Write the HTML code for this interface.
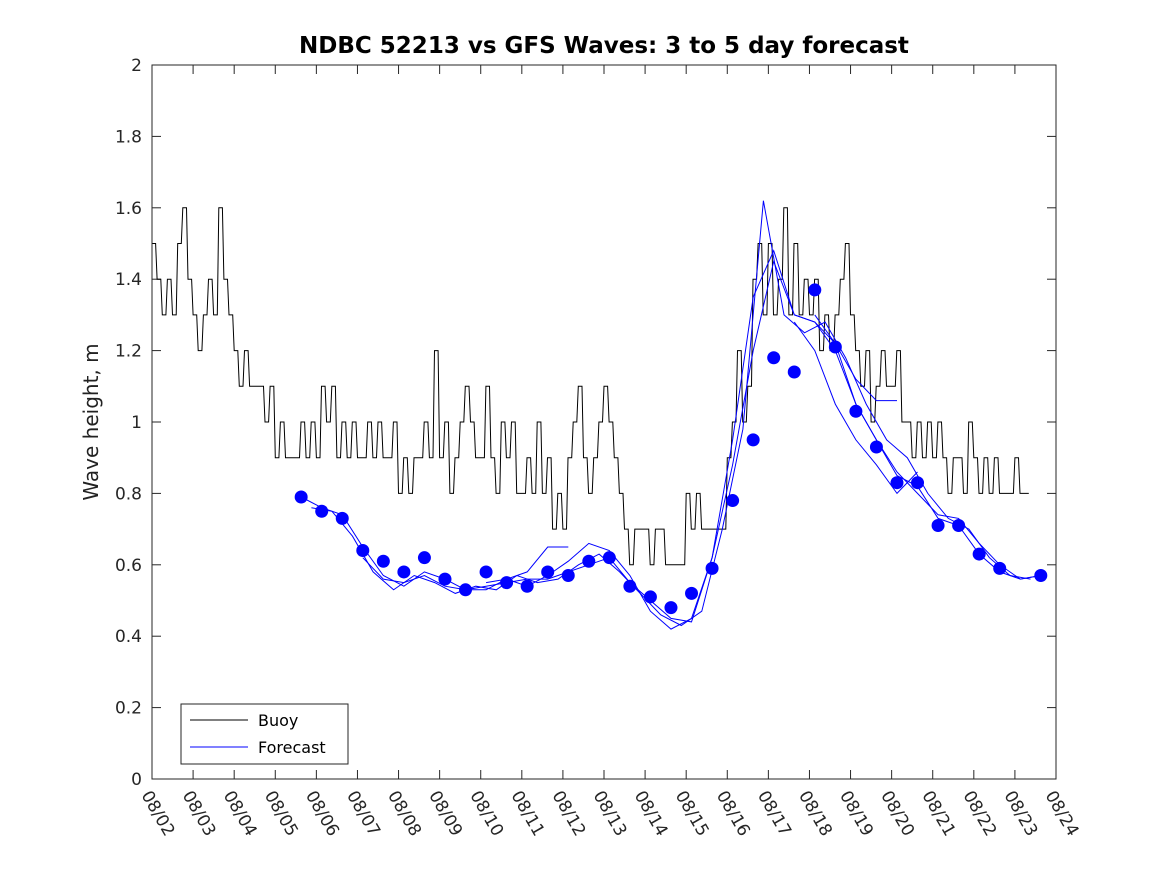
<!DOCTYPE html>
<html><head><meta charset="utf-8"><style>body{margin:0;background:#fff}svg{display:block;font-family:"DejaVu Sans","Liberation Sans",sans-serif}</style></head>
<body>
<svg id="chart" width="1167" height="875" xmlns="http://www.w3.org/2000/svg">
<rect width="1167" height="875" fill="#fff"/>
<text x="604" y="53" text-anchor="middle" font-size="23" font-weight="bold">NDBC 52213 vs GFS Waves: 3 to 5 day forecast</text>
<text transform="translate(98,422) rotate(-90)" text-anchor="middle" font-size="20" fill="#222">Wave height, m</text>
<g id="axes"></g>
<g id="series"></g>
<rect x="152" y="65" width="904" height="714" fill="none" stroke="#262626" stroke-width="1"/>
<g>
<rect x="181" y="704" width="167" height="60" fill="#fff" stroke="#262626"/>
<line x1="190" y1="720" x2="248" y2="720" stroke="#000"/>
<text x="258" y="726" font-size="16">Buoy</text>
<line x1="190" y1="747" x2="248" y2="747" stroke="#00f"/>
<text x="258" y="753" font-size="16">Forecast</text>
</g>
</svg>
<script>
const xTickLabels=["08/02","08/03","08/04","08/05","08/06","08/07","08/08","08/09","08/10","08/11","08/12","08/13","08/14","08/15","08/16","08/17","08/18","08/19","08/20","08/21","08/22","08/23","08/24"];
const yTicks=[0,0.2,0.4,0.6,0.8,1,1.2,1.4,1.6,1.8,2];
const buoyStep=0.125;
const buoy=[1.5,1.4,1.3,1.4,1.3,1.5,1.6,1.4,
1.3,1.2,1.3,1.4,1.3,1.6,1.4,1.3,
1.2,1.1,1.2,1.1,1.1,1.1,1.0,1.1,
0.9,1.0,0.9,0.9,0.9,1.0,0.9,1.0,
0.9,1.1,1.0,1.1,0.9,1.0,0.9,1.0,
0.9,0.9,1.0,0.9,1.0,0.9,0.9,1.0,
0.8,0.9,0.8,0.9,0.9,1.0,0.9,1.2,
0.9,1.0,0.8,0.9,1.0,1.1,1.0,0.9,
0.9,1.1,0.9,0.8,1.0,0.9,1.0,0.8,
0.8,0.9,0.8,1.0,0.8,0.9,0.7,0.8,
0.7,0.9,1.0,1.1,0.9,0.8,0.9,1.0,
1.1,1.0,0.9,0.8,0.7,0.6,0.7,0.7,
0.7,0.6,0.7,0.7,0.6,0.6,0.6,0.6,
0.8,0.7,0.8,0.7,0.7,0.7,0.7,0.7,
0.9,1.0,1.2,1.0,1.1,1.4,1.5,1.3,
1.5,1.3,1.4,1.6,1.3,1.5,1.3,1.4,
1.3,1.4,1.2,1.3,1.2,1.3,1.4,1.5,
1.3,1.2,1.1,1.2,1.0,1.1,1.2,1.1,
1.1,1.2,1.0,1.0,0.9,1.0,0.9,1.0,
0.9,1.0,0.9,0.8,0.9,0.9,0.8,1.0,
0.9,0.8,0.9,0.8,0.9,0.8,0.8,0.8,
0.9,0.8,0.8];
const dotStart=3.63;
const dots=[0.79,0.75,0.73,0.64,0.61,0.58,0.62,0.56,0.53,0.58,0.55,0.54,0.58,0.57,0.61,0.62,0.54,0.51,0.48,0.52,0.59,0.78,0.95,1.18,1.14,1.37,1.21,1.03,0.93,0.83,0.83,0.71,0.71,0.63,0.59,null,0.57];
const runStarts=[3.63,3.88,5.13,8.13,16.13,15.63];
const run1=[0.79,0.76,0.74,0.65,0.57,0.54,0.58,0.56,0.53,0.54,0.55,0.56,0.56,0.58,0.60,0.62,0.55,0.50,0.45,0.44,0.62,0.88,1.20,1.45,1.30,1.28,1.22,1.05,0.95,0.85,0.82,0.73,0.71,0.63,0.58,0.56,0.57];
const run2=[0.76,0.75,0.68,0.58,0.53,0.57,0.55,0.52,0.54,0.53,0.57,0.55,0.56,0.60,0.63,0.58,0.52,0.46,0.43,0.47,0.70,0.98,1.62,1.30,1.25,1.28,1.18,1.05,0.95,0.90,0.80,0.73,0.70,0.62,0.57,0.56];
const run3=[0.62,0.56,0.55,0.57,0.54,0.53,0.53,0.56,0.54,0.57,0.61,0.66,0.64,0.57,0.47,0.42,0.45,0.62,0.95,1.35,1.48,1.30,1.28,1.20,1.05,0.95,0.86,0.80,0.74,0.73,0.66,0.60,0.56,0.57];
const run4=[0.55,0.56,0.58,0.65,0.65];
const run5=[1.30,1.22,1.12,1.06,1.06];
const run6=[1.28,1.20,1.05,0.95,0.88,0.80,0.86];
const runs=[run1,run2,run3,run4,run5,run6];

const X0=152,X1=1056,Y0=779,Y1=65;
const xs=d=>X0+d*(X1-X0)/22;
const ys=v=>Y0-v*(Y0-Y1)/2;
const NS="http://www.w3.org/2000/svg";
function mk(tag,attrs,parent){const e=document.createElementNS(NS,tag);for(const k in attrs)e.setAttribute(k,attrs[k]);parent.appendChild(e);return e;}
const axes=document.getElementById('axes'),ser=document.getElementById('series');
yTicks.forEach(v=>{
 const y=ys(v);
 const t=mk('line',{x1:X0,y1:y,x2:X0+9,y2:y,stroke:'#262626'},axes);
 
 
 const t2=mk('line',{x1:X1,y1:y,x2:X1-9,y2:y,stroke:'#262626'},axes);
 
 
 const l=mk('text',{x:X0-10,y:y+6,'text-anchor':'end','font-size':'17',fill:'#262626'},axes);
 l.textContent=String(v);
 
 
});
xTickLabels.forEach((s,i)=>{
 const x=xs(i);
 const t=mk('line',{x1:x,y1:Y0,x2:x,y2:Y0-9,stroke:'#262626'},axes);
 
 
 const t2=mk('line',{x1:x,y1:Y1,x2:x,y2:Y1+9,stroke:'#262626'},axes);
 
 
 const l=mk('text',{transform:`translate(${x-11},${795}) rotate(60)`,'font-size':'17',fill:'#262626'},axes);
 l.textContent=s;
 
 
});
let d='';
buoy.forEach((v,i)=>{const x0=xs(i*buoyStep),x1=xs((i+1)*buoyStep)-1.5;d+=(i?'L':'M')+x0.toFixed(1)+','+ys(v).toFixed(1)+'L'+x1.toFixed(1)+','+ys(v).toFixed(1);});
const bp=mk('path',{d:d,fill:'none',stroke:'#000','stroke-width':'1'},ser);


runs.forEach((r,k)=>{
 const pd=r.map((v,i)=>(i?'L':'M')+xs(runStarts[k]+i*0.5).toFixed(1)+','+ys(v).toFixed(1)).join('');
 const p=mk('path',{d:pd,fill:'none',stroke:'#00f','stroke-width':'1'},ser);
 
 
});
dots.forEach((v,i)=>{
 if(v===null)return;
 const c=mk('circle',{cx:xs(dotStart+i*0.5),cy:ys(v),r:6.5,fill:'#00f'},ser);
 
 
});
</script>
</body></html>
